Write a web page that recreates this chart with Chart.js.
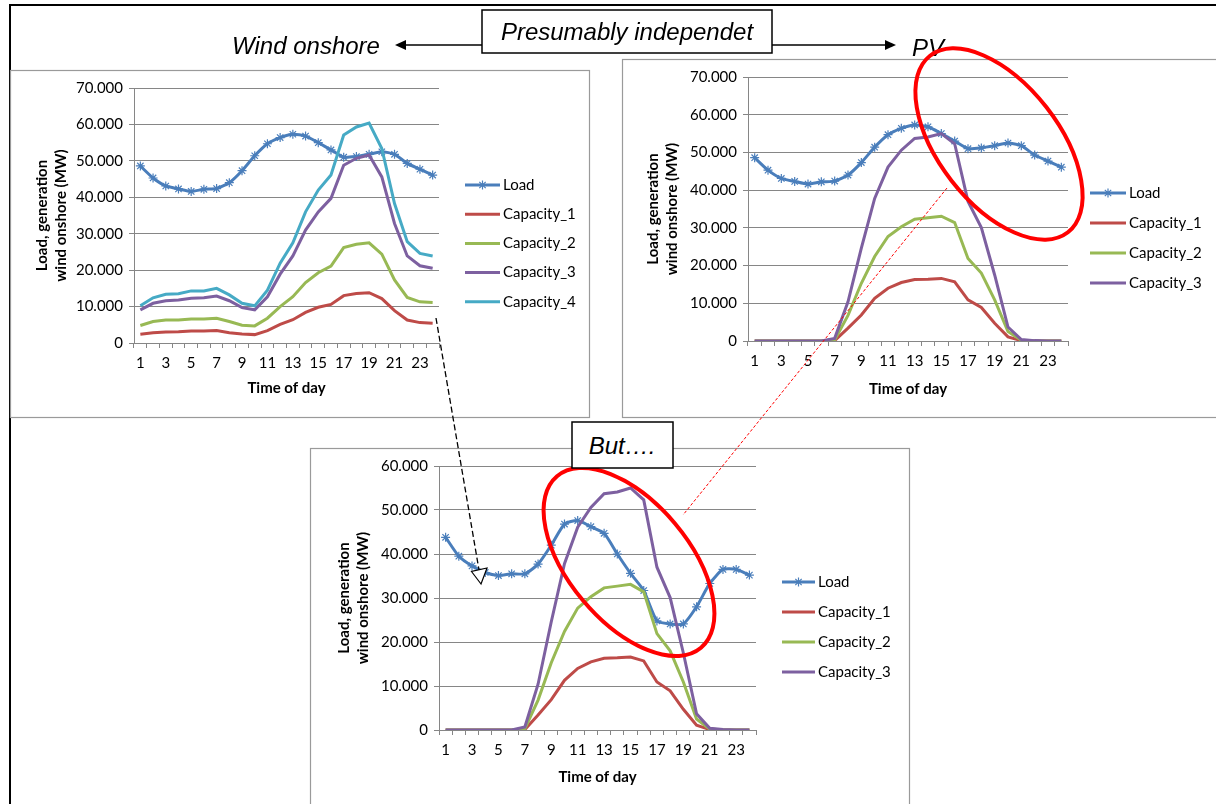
<!DOCTYPE html>
<html>
<head>
<meta charset="utf-8">
<script src="https://cdn.jsdelivr.net/npm/chart.js@4.4.1/dist/chart.umd.min.js"></script>
<style>
    body { margin: 0; width: 1216px; height: 804px; overflow: hidden; position: relative; background: #ffffff; }
    canvas { position: absolute; }
    svg { position: absolute; left: 0; top: 0; }
    .note { font-family: "Liberation Sans", Arial, sans-serif; font-style: italic; font-size: 24px; }
</style>
</head>
<body>

<!-- frame and panel borders -->
<svg width="1216" height="804">
    <line x1="9" y1="5" x2="1216" y2="5" stroke="#000" stroke-width="2"/>
    <line x1="10" y1="5" x2="10" y2="804" stroke="#000" stroke-width="2"/>
    <rect x="10.5" y="70.5" width="579" height="347" fill="none" stroke="#9a9a9a" stroke-width="1.2"/>
    <rect x="622.5" y="59.5" width="620" height="358" fill="none" stroke="#9a9a9a" stroke-width="1.2"/>
    <rect x="310.5" y="448.5" width="599" height="380" fill="none" stroke="#9a9a9a" stroke-width="1.2"/>
</svg>

<canvas id="windChart" width="579" height="347" style="left:10px; top:70px;"></canvas>
<canvas id="pvChart" width="594" height="358" style="left:622px; top:59px;"></canvas>
<canvas id="netChart" width="599" height="356" style="left:310px; top:448px;"></canvas>

<!-- annotations -->
<svg width="1216" height="804">
    <line x1="482" y1="45" x2="404" y2="45" stroke="#000" stroke-width="1.5"/>
    <polygon points="395,45 406,40 406,50" fill="#000"/>
    <line x1="772" y1="45" x2="886" y2="45" stroke="#000" stroke-width="1.5"/>
    <polygon points="896,45 885,40 885,50" fill="#000"/>
    <rect x="482" y="10" width="290" height="43" fill="#fff" stroke="#000" stroke-width="1.5"/>
    <text class="note" x="627" y="40" text-anchor="middle">Presumably independet</text>
    <text class="note" x="306" y="54" text-anchor="middle">Wind onshore</text>
    <text class="note" x="912" y="56">PV</text>

    <ellipse cx="999" cy="144" rx="112" ry="60" transform="rotate(52 999 144)" fill="none" stroke="#ff0000" stroke-width="4"/>
    <ellipse cx="629" cy="562" rx="112" ry="60" transform="rotate(50 629 562)" fill="none" stroke="#ff0000" stroke-width="4"/>

    <line x1="947" y1="188" x2="683" y2="515" stroke="#ff0000" stroke-width="1" stroke-dasharray="3,2"/>
    <line x1="436" y1="318" x2="479" y2="570" stroke="#000" stroke-width="1.3" stroke-dasharray="6,3"/>
    <polygon points="481,584 471.5,571.5 487,568" fill="#fff" stroke="#000" stroke-width="1.2"/>

    <rect x="572" y="422" width="101" height="46" fill="#fff" stroke="#000" stroke-width="1.5"/>
    <text class="note" x="622" y="454" text-anchor="middle">But….</text>
</svg>

<script>
/* ==========================================
   Load vs. wind / PV generation
========================================== */

const hours = ["1","2","3","4","5","6","7","8","9","10","11","12",
               "13","14","15","16","17","18","19","20","21","22","23","24"];

const load = [48600, 45300, 43100, 42300, 41600, 42200, 42400, 44000, 47300, 51400, 54700, 56400,
              57300, 56800, 55000, 53000, 51000, 51200, 51800, 52500, 51800, 49300, 47700, 46100];

const netLoad = [43800, 39500, 37300, 35800, 35100, 35500, 35500, 37700, 42000, 46800, 47600, 46200,
                 44700, 40000, 35600, 31700, 24800, 24100, 24100, 28000, 33300, 36500, 36500, 35200];

const windCap1 = [2400, 2800, 3000, 3100, 3300, 3300, 3400, 2800, 2500, 2300, 3400, 5100,
                  6400, 8400, 9800, 10600, 13000, 13600, 13800, 12200, 8900, 6300, 5600, 5400];
const windCap2 = [4800, 5900, 6300, 6300, 6600, 6600, 6800, 5900, 4900, 4700, 6800, 10000,
                  12700, 16600, 19300, 21100, 26200, 27100, 27500, 24400, 17300, 12500, 11300, 11100];
const windCap3 = [9100, 10900, 11600, 11800, 12300, 12400, 12900, 11600, 9700, 9100, 12700, 18900,
                  23900, 31000, 36000, 39700, 48800, 50700, 51600, 45600, 32800, 23900, 21200, 20500];
const windCap4 = [10200, 12400, 13400, 13500, 14300, 14300, 15000, 13200, 10900, 10200, 14500, 21900,
                  27500, 36000, 42000, 46100, 57100, 59300, 60400, 53400, 38300, 27800, 24600, 23900];

const pvCap1 = [0, 0, 0, 0, 0, 0, 100, 3400, 6900, 11300, 14000, 15500,
                16300, 16400, 16600, 15700, 10900, 8900, 4700, 1100, 100, 0, 0, 0];
const pvCap2 = [0, 0, 0, 0, 0, 0, 300, 6800, 15300, 22400, 27700, 30300,
                32300, 32700, 33100, 31400, 21900, 18000, 10900, 2500, 200, 0, 0, 0];
const pvCap3 = [0, 0, 0, 0, 0, 0, 700, 10400, 24600, 37800, 46100, 50600,
                53700, 54100, 55000, 52300, 37000, 30100, 17500, 3700, 400, 100, 0, 0];

Chart.defaults.font.family = "Lato, 'Liberation Sans', sans-serif";
Chart.defaults.color = "#000";
Chart.defaults.animation = false;

const BLUE = "#4a7ebb", RED = "#be4b48", GREEN = "#98b954", PURPLE = "#7d60a0", CYAN = "#46aac5";


// ---------------------------
// Excel style legend
// ---------------------------

const excelLegend = {

    id: "excelLegend",

    afterDraw(chart, args, opts) {

        const ctx = chart.ctx;
        ctx.save();
        ctx.font = "15px Lato, 'Liberation Sans', sans-serif";
        ctx.textBaseline = "middle";

        chart.data.datasets.forEach((ds, i) => {

            const y = opts.y + i * opts.gap;

            ctx.strokeStyle = ds.borderColor;
            ctx.lineWidth = 3;
            ctx.beginPath();
            ctx.moveTo(opts.x, y);
            ctx.lineTo(opts.x + opts.len, y);
            ctx.stroke();

            if (ds.pointStyle === "star") {
                ctx.lineWidth = 1.2;
                Chart.helpers.drawPoint(ctx, { pointStyle: "star", radius: 4.5, rotation: 0, borderWidth: 1.2 },
                    opts.x + opts.len / 2, y);
            }

            ctx.fillStyle = "#000";
            ctx.fillText(ds.label, opts.x + opts.len + 3, y);

        });

        ctx.restore();

    }

};


function series(label, data, color, order, star) {

    return {
        label: label,
        data: data,
        borderColor: color,
        backgroundColor: color,
        borderWidth: 3,
        tension: star ? 0.2 : 0,
        order: order,
        pointStyle: star ? "star" : "circle",
        pointRadius: star ? 4.5 : 0,
        pointBorderWidth: 1.2,
        pointBorderColor: color
    };

}


function makeChart(id, datasets, box) {

    const canvas = document.getElementById(id);

    return new Chart(canvas, {

        type: "line",

        data: { labels: hours, datasets: datasets },

        plugins: [excelLegend],

        options: {

            responsive: false,

            layout: {
                padding: { left: 0, top: box.top, right: canvas.width - box.right, bottom: 0 }
            },

            plugins: {
                legend: { display: false },
                tooltip: { enabled: false },
                excelLegend: box.legend
            },

            scales: {

                x: {
                    offset: true,
                    grid: { offset: true, drawOnChartArea: false, color: "#868686", tickLength: 5 },
                    border: { color: "#868686" },
                    ticks: {
                        autoSkip: false,
                        maxRotation: 0,
                        padding: 6,
                        font: { size: 15 },
                        callback: (v, i) => i % 2 === 0 ? hours[i] : ""
                    },
                    title: {
                        display: true,
                        text: "Time of day",
                        font: { size: 15, weight: "bold", lineHeight: 1.2 },
                        padding: { top: 0, bottom: box.xTitlePad }
                    },
                    afterFit: s => { s.height = canvas.height - box.bottom; }
                },

                y: {
                    min: 0,
                    max: box.ymax,
                    grid: { color: "#868686", tickLength: 5 },
                    border: { color: "#868686" },
                    ticks: {
                        stepSize: 10000,
                        padding: 6,
                        font: { size: 15 },
                        callback: v => v === 0 ? "0" : (v / 1000).toFixed(3)
                    },
                    title: {
                        display: true,
                        text: ["Load, generation", "wind onshore (MW)"],
                        font: { size: 15, weight: "bold", lineHeight: 1.3 },
                        padding: { top: box.yTitlePad, bottom: 0 }
                    },
                    afterFit: s => { s.width = box.left; }
                }

            }

        }

    });

}


// ---------------------------
// Wind onshore
// ---------------------------

makeChart("windChart", [
    series("Load", load, BLUE, 10, true),
    series("Capacity_1", windCap1, RED, 4),
    series("Capacity_2", windCap2, GREEN, 3),
    series("Capacity_3", windCap3, PURPLE, 2),
    series("Capacity_4", windCap4, CYAN, 1)
], {
    left: 124, right: 429, top: 18, bottom: 273, ymax: 70000,
    xTitlePad: 20, yTitlePad: 22,
    legend: { x: 455, y: 115, gap: 29.2, len: 35 }
});


// ---------------------------
// PV
// ---------------------------

makeChart("pvChart", [
    series("Load", load, BLUE, 10, true),
    series("Capacity_1", pvCap1, RED, 4),
    series("Capacity_2", pvCap2, GREEN, 3),
    series("Capacity_3", pvCap3, PURPLE, 2)
], {
    left: 126, right: 446, top: 18, bottom: 282, ymax: 70000,
    xTitlePad: 19, yTitlePad: 21,
    legend: { x: 468, y: 134, gap: 30, len: 36 }
});


// ---------------------------
// But.... (load minus wind vs PV)
// ---------------------------

makeChart("netChart", [
    series("Load", netLoad, BLUE, 10, true),
    series("Capacity_1", pvCap1, RED, 4),
    series("Capacity_2", pvCap2, GREEN, 3),
    series("Capacity_3", pvCap3, PURPLE, 2)
], {
    left: 129, right: 446, top: 18, bottom: 282, ymax: 60000,
    xTitlePad: 18, yTitlePad: 24,
    legend: { x: 472, y: 134, gap: 30, len: 33 }
});
</script>
</body>
</html>
